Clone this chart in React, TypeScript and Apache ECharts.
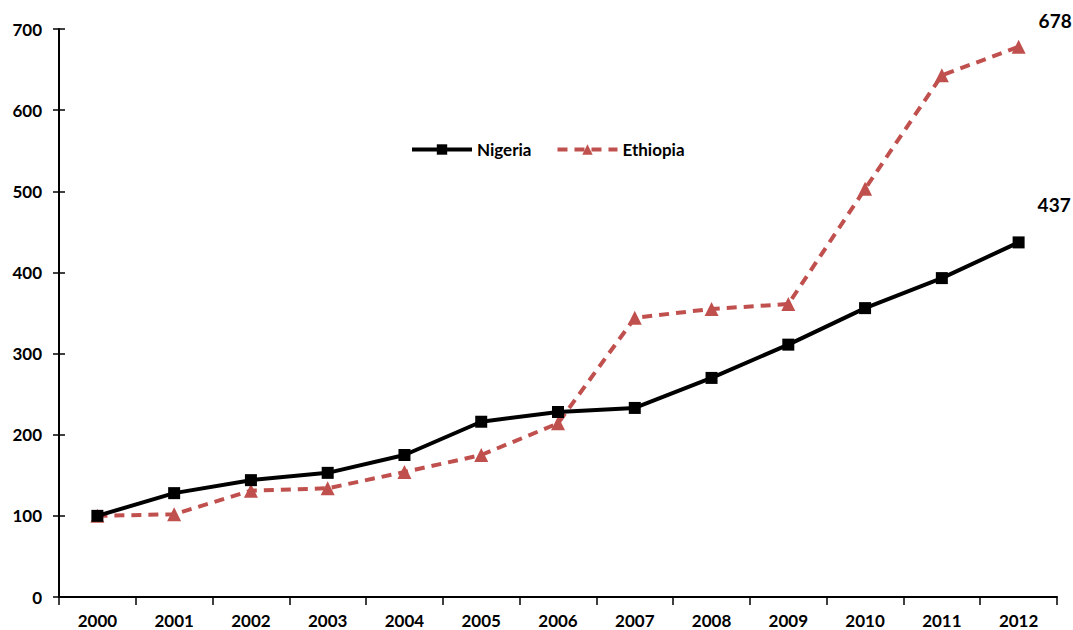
import React, { useEffect, useRef } from "react";
import * as echarts from "echarts";

const years = ["2000", "2001", "2002", "2003", "2004", "2005", "2006", "2007", "2008", "2009", "2010", "2011", "2012"];
const nigeria = [100, 128, 144, 153, 175, 216, 228, 233, 270, 311, 356, 393, 437];
const ethiopia = [100, 102, 131, 134, 154, 175, 214, 344, 355, 361, 503, 643, 678];

const FONT = "Lato, 'Open Sans', sans-serif";

export default function App() {
  const ref = useRef<HTMLDivElement>(null);
  useEffect(() => {
    const chart = echarts.init(ref.current!, null, { renderer: "svg" });
    const lastLabel = (dy: number) => ({
      show: true,
      formatter: (p: any) => (p.dataIndex === years.length - 1 ? String(p.value) : ""),
      position: "right",
      offset: [8, dy],
      fontFamily: FONT,
      fontWeight: "bold",
      fontSize: 19,
      color: "#000",
    });
    chart.setOption({
      animation: false,
      backgroundColor: "#fff",
      textStyle: { fontFamily: FONT },
      grid: { left: 59, right: 16, top: 29, bottom: 33, containLabel: false },
      legend: {
        top: 136,
        left: 405,
        itemWidth: 60,
        itemHeight: 13,
        itemGap: 24,
        lineStyle: { width: 4 },
        textStyle: { fontFamily: FONT, fontWeight: "bold", fontSize: 17, color: "#000" },
        data: ["Nigeria", "Ethiopia"],
      },
      xAxis: {
        type: "category",
        data: years,
        boundaryGap: true,
        axisLine: { lineStyle: { color: "#000", width: 2 } },
        axisTick: { show: true, length: 8, lineStyle: { color: "#000", width: 1.5 } },
        axisLabel: { color: "#000", fontFamily: FONT, fontWeight: "bold", fontSize: 17, margin: 15 },
      },
      yAxis: [
        {
          type: "value",
          min: 0,
          max: 700,
          interval: 100,
          splitLine: { show: false },
          axisLine: { show: true, lineStyle: { color: "#000", width: 2 } },
          axisTick: { show: true, length: 6, lineStyle: { color: "#000", width: 1.5 } },
          axisLabel: { color: "#000", fontFamily: FONT, fontWeight: "bold", fontSize: 17, margin: 17 },
        },
        {
          type: "value",
          position: "left",
          min: 0,
          max: 700,
          interval: 100,
          splitLine: { show: false },
          axisLine: { show: false },
          axisTick: { show: true, inside: true, length: 6, lineStyle: { color: "#000", width: 1.5 } },
          axisLabel: { show: false },
        },
      ],
      series: [
        {
          name: "Nigeria",
          type: "line",
          data: nigeria,
          symbol: "rect",
          symbolSize: 12,
          color: "#000",
          lineStyle: { color: "#000", width: 4 },
          itemStyle: { color: "#000" },
          label: lastLabel(-38),
          z: 3,
        },
        {
          name: "Ethiopia",
          type: "line",
          data: ethiopia,
          symbol: "triangle",
          symbolSize: 14,
          color: "#C0504D",
          lineStyle: { color: "#C0504D", width: 4, type: [10, 7] },
          itemStyle: { color: "#C0504D" },
          label: lastLabel(-26),
          z: 2,
        },
      ],
    });
    return () => chart.dispose();
  }, []);
  return <div ref={ref} style={{ width: 1073, height: 630, position: "absolute", left: 0, top: 0 }} />;
}
